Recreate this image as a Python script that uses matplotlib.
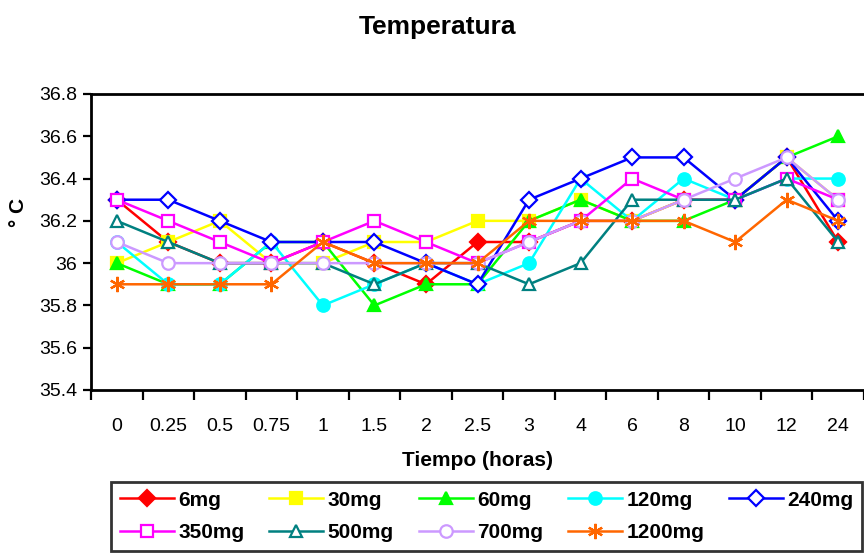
import numpy as np
import matplotlib
matplotlib.use('Agg')
import matplotlib.pyplot as plt

plt.rcParams['font.family'] = ['Liberation Sans', 'DejaVu Sans']

tiempos = ['0', '0.25', '0.5', '0.75', '1', '1.5', '2', '2.5', '3', '4', '6', '8', '10', '12', '24']

dosis = ['6mg', '30mg', '60mg', '120mg', '240mg', '350mg', '500mg', '700mg', '1200mg']

t_6mg    = [36.3, 36.1, 36.0, 36.0, 36.1, 36.0, 35.9, 36.1, 36.1, 36.2, 36.2, 36.3, 36.3, 36.5, 36.1]
t_30mg   = [36.0, 36.1, 36.2, 36.0, 36.0, 36.1, 36.1, 36.2, 36.2, 36.3, 36.2, 36.3, 36.3, 36.5, 36.3]
t_60mg   = [36.0, 35.9, 35.9, 36.1, 36.1, 35.8, 35.9, 35.9, 36.2, 36.3, 36.2, 36.2, 36.3, 36.5, 36.6]
t_120mg  = [36.1, 35.9, 35.9, 36.1, 35.8, 35.9, 36.0, 35.9, 36.0, 36.4, 36.2, 36.4, 36.3, 36.4, 36.4]
t_240mg  = [36.3, 36.3, 36.2, 36.1, 36.1, 36.1, 36.0, 35.9, 36.3, 36.4, 36.5, 36.5, 36.3, 36.5, 36.2]
t_350mg  = [36.3, 36.2, 36.1, 36.0, 36.1, 36.2, 36.1, 36.0, 36.1, 36.2, 36.4, 36.3, 36.3, 36.4, 36.3]
t_500mg  = [36.2, 36.1, 36.0, 36.0, 36.0, 35.9, 36.0, 36.0, 35.9, 36.0, 36.3, 36.3, 36.3, 36.4, 36.1]
t_700mg  = [36.1, 36.0, 36.0, 36.0, 36.0, 36.0, 36.0, 36.0, 36.1, 36.2, 36.2, 36.3, 36.4, 36.5, 36.3]
t_1200mg = [35.9, 35.9, 35.9, 35.9, 36.1, 36.0, 36.0, 36.0, 36.2, 36.2, 36.2, 36.2, 36.1, 36.3, 36.2]

series = [t_6mg, t_30mg, t_60mg, t_120mg, t_240mg, t_350mg, t_500mg, t_700mg, t_1200mg]
colores = ['#FF0000', '#FFFF00', '#00FF00', '#00FFFF', '#0000FF',
           '#FF00FF', '#008080', '#CC99FF', '#FF6600']
marcadores = ['D', 's', '^', 'o', 'D', 's', '^', 'o', (6, 2, 0)]
rellenos = [True, True, True, True, False, False, False, False, True]

fig = plt.figure(figsize=(8.64, 5.54), dpi=100)
ax = fig.add_axes([91 / 864, 1 - 390 / 554, 773 / 864, 296 / 554])

x = np.arange(len(tiempos))
lineas = []
for vals, nombre, c, m, lleno in zip(series, dosis, colores, marcadores, rellenos):
    ms = 8 if m == 'D' else 9
    if m == (6, 2, 0):
        ms = 11
    ln, = ax.plot(x, vals, color=c, lw=1.8, marker=m, ms=ms,
                  mfc=c if lleno else 'white', mec=c, mew=1.6,
                  label=nombre, clip_on=False, zorder=3)
    lineas.append(ln)

ax.set_xlim(-0.5, len(tiempos) - 0.5)
ax.set_ylim(35.4, 36.8)
ax.set_yticks(np.arange(35.4, 36.81, 0.2))
ax.set_yticklabels(['%g' % round(v, 1) for v in np.arange(35.4, 36.81, 0.2)])
ax.set_xticks(x)
ax.set_xticklabels(tiempos)
ax.set_xticks(np.arange(-0.5, len(tiempos), 1), minor=True)

ax.tick_params(axis='y', which='major', length=6, width=1.6, direction='out',
               labelsize=14, pad=4)
ax.tick_params(axis='x', which='major', length=0, labelsize=14, pad=20)
ax.tick_params(axis='x', which='minor', length=7, width=1.6, direction='out')

for lado in ['left', 'bottom', 'top']:
    ax.spines[lado].set_linewidth(2)
ax.spines['right'].set_visible(False)

ax.set_ylabel('° C', fontsize=15, fontweight='bold')
ax.yaxis.set_label_coords(-0.082, 0.6)
ax.set_xlabel('Tiempo (horas)', fontsize=15, fontweight='bold')
ax.xaxis.set_label_coords(0.5, -0.205)

fig.text(437 / 864, 1 - 27 / 554, 'Temperatura', fontsize=19, fontweight='bold',
         ha='center', va='center')

# la leyenda se llena por columnas: reordenar para leer por filas
orden = [0, 5, 1, 6, 2, 7, 3, 8, 4]
leg = fig.legend([lineas[i] for i in orden], [dosis[i] for i in orden],
                 ncol=5, loc='upper left', bbox_to_anchor=(111 / 864, 1 - 482 / 554),
                 bbox_transform=fig.transFigure, frameon=True, fancybox=False,
                 edgecolor='black', prop={'weight': 'bold', 'size': 15},
                 handlelength=2.6, handletextpad=0.2, columnspacing=1.2,
                 borderpad=0.42, labelspacing=0.65, borderaxespad=0)
leg.get_frame().set_linewidth(2)

fig.savefig('out.png', dpi=100)
